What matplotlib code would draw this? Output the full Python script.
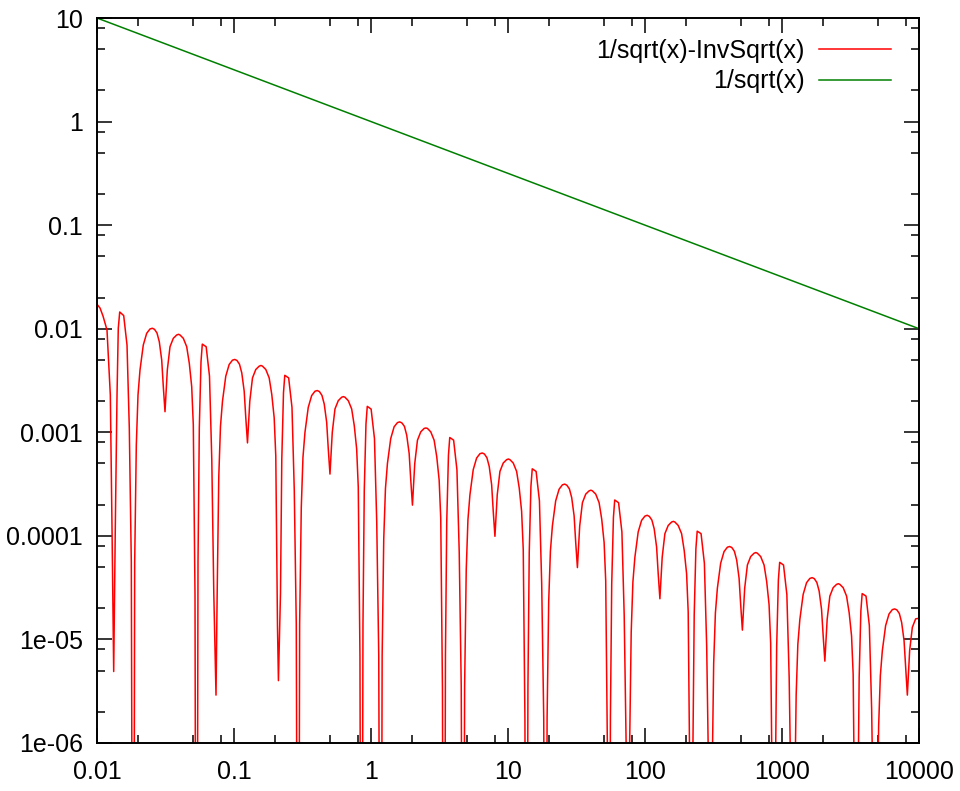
import matplotlib
matplotlib.use("Agg")
import matplotlib.pyplot as plt
from matplotlib.ticker import LogLocator, NullFormatter, FixedLocator, FixedFormatter

plt.rcParams['font.family'] = ['Liberation Sans', 'DejaVu Sans']

DEEP = 1e-9   # curve touches zero there and runs off the bottom

# |1/sqrt(x) - InvSqrt(x)|, one list per factor-4 step
start_x = [0.01, 0.01052, 0.01106, 0.01183, 0.01251, 0.01287, 0.01324, 0.01360, 0.01400, 0.01430, 0.01465]
start_y = [0.0172, 0.01585, 0.01327, 0.00972, 0.00229, 1.19e-4, 4.9e-6, 1.19e-4, 0.00229, 0.0101, 0.0145]

p0_x = [0.01566, 0.01656, 0.01721, 0.01780, 0.01822, 0.01853, 0.01884, 0.01936, 0.01992, 0.02060,
        0.02177, 0.02305, 0.02437, 0.02533, 0.02628, 0.02741, 0.02849, 0.02967, 0.03048, 0.03136,
        0.03260, 0.03411, 0.03606, 0.03818, 0.03935, 0.04035, 0.04266, 0.04516, 0.04718, 0.04912,
        0.05046, 0.05192, 0.05280, 0.05370, 0.05461, 0.05582, 0.05743, 0.05870]
p0_y = [0.0134, 0.00696, 0.0011, 5.6e-5, DEEP, DEEP, 5.6e-5, 7.5e-4, 0.00229, 0.00399,
        0.00696, 0.00903, 0.00994, 0.0101, 0.00987, 0.00909, 0.00749, 0.00499, 0.00276, 0.00158,
        0.00399, 0.0067, 0.00808, 0.0087, 0.00883, 0.0087, 0.00808, 0.0067, 0.00463, 0.00276,
        0.00118, 2.7e-5, DEEP, DEEP, 5.6e-5, 0.0011, 0.0048, 0.0071]

p1_x = [0.06264, 0.06624, 0.06884, 0.0712, 0.0739, 0.07536, 0.07744, 0.07968, 0.0824,
        0.08708, 0.0922, 0.09748, 0.10132, 0.10512, 0.10964, 0.11396, 0.11868, 0.12192, 0.12544,
        0.1304, 0.13644, 0.14424, 0.15272, 0.1574, 0.1614, 0.17064, 0.18064, 0.18872, 0.19648,
        0.20184, 0.20768, 0.2110, 0.21844, 0.22328, 0.22972, 0.2348]
p1_y = [0.0067, 0.00348, 5.5e-4, 2.8e-5, 2.9e-6, 2.8e-5, 3.75e-4, 0.001145, 0.001995,
        0.00348, 0.004515, 0.00497, 0.00505, 0.004935, 0.004545, 0.003745, 0.002495, 0.00138, 7.9e-4,
        0.001995, 0.00335, 0.00404, 0.00435, 0.004415, 0.00435, 0.00404, 0.00335, 0.002315, 0.00138,
        5.9e-4, 1.35e-5, 4e-6, 2.8e-5, 5.5e-4, 0.0024, 0.00355]

p2_x = [0.2506, 0.2650, 0.2754, 0.2848, 0.2915, 0.2965, 0.3014, 0.3098, 0.3187, 0.3296,
        0.3483, 0.3688, 0.3899, 0.4053, 0.4205, 0.4386, 0.4558, 0.4747, 0.4877, 0.5018,
        0.5216, 0.5458, 0.5770, 0.6109, 0.6296, 0.6456, 0.6826, 0.7226, 0.7549, 0.7859,
        0.8074, 0.8307, 0.8448, 0.8592, 0.8738, 0.8931, 0.9189, 0.9392]
p2_y = [0.00335, 0.00174, 2.75e-4, 1.4e-5, DEEP, DEEP, 1.4e-5, 1.875e-4, 5.73e-4, 9.98e-4,
        0.00174, 0.00226, 0.00249, 0.00253, 0.00247, 0.00227, 0.00187, 0.00125, 6.9e-4, 3.95e-4,
        9.98e-4, 0.00168, 0.00202, 0.00218, 0.00221, 0.00218, 0.00202, 0.00168, 0.00116, 6.9e-4,
        2.95e-4, 6.8e-6, DEEP, DEEP, 1.4e-5, 2.75e-4, 0.0012, 0.00178]

p3_x = [1.002, 1.060, 1.101, 1.139, 1.166, 1.186, 1.206, 1.239, 1.275, 1.318,
        1.393, 1.475, 1.560, 1.621, 1.682, 1.754, 1.823, 1.899, 1.951, 2.007,
        2.086, 2.183, 2.308, 2.444, 2.518, 2.582, 2.730, 2.890, 3.020, 3.144,
        3.229, 3.323, 3.379, 3.437, 3.495, 3.572, 3.676, 3.757]
p3_y = [0.001675, 8.7e-4, 1.375e-4, 7e-6, DEEP, DEEP, 7e-6, 9.4e-5, 2.86e-4, 4.99e-4,
        8.7e-4, 0.00113, 0.00124, 0.00126, 0.00123, 0.00114, 9.36e-4, 6.24e-4, 3.45e-4, 1.98e-4,
        4.99e-4, 8.38e-4, 0.00101, 0.00109, 0.0011, 0.00109, 0.00101, 8.38e-4, 5.79e-4, 3.45e-4,
        1.48e-4, 3.4e-6, DEEP, DEEP, 7e-6, 1.375e-4, 6e-4, 8.9e-4]

p4_x = [4.009, 4.239, 4.406, 4.557, 4.664, 4.744, 4.823, 4.956, 5.100, 5.274,
        5.573, 5.901, 6.239, 6.484, 6.728, 7.017, 7.293, 7.596, 7.803, 8.028,
        8.346, 8.732, 9.231, 9.774, 10.07, 10.33, 10.92, 11.56, 12.08, 12.57,
        12.92, 13.29, 13.52, 13.75, 13.98, 14.29, 14.70, 15.03]
p4_y = [8.4e-4, 4.35e-4, 6.9e-5, 3.5e-6, DEEP, DEEP, 3.5e-6, 4.7e-5, 1.43e-4, 2.49e-4,
        4.35e-4, 5.64e-4, 6.21e-4, 6.31e-4, 6.17e-4, 5.68e-4, 4.68e-4, 3.12e-4, 1.73e-4, 9.9e-5,
        2.49e-4, 4.19e-4, 5.05e-4, 5.44e-4, 5.52e-4, 5.44e-4, 5.05e-4, 4.19e-4, 2.89e-4, 1.73e-4,
        7.4e-5, 1.7e-6, DEEP, DEEP, 3.5e-6, 6.9e-5, 3e-4, 4.44e-4]

p5_x = [16.04, 16.96, 17.62, 18.23, 18.66, 18.97, 19.29, 19.82, 20.40, 21.09,
        22.29, 23.60, 24.95, 25.94, 26.91, 28.07, 29.17, 30.38, 31.21, 32.11,
        33.38, 34.93, 36.93, 39.10, 40.29, 41.32, 43.68, 46.24, 48.31, 50.30,
        51.67, 53.17, 54.07, 54.99, 55.92, 57.16, 58.81, 60.11]
p5_y = [4.19e-4, 2.18e-4, 3.44e-5, 1.75e-6, DEEP, DEEP, 1.75e-6, 2.34e-5, 7.16e-5, 1.25e-4,
        2.18e-4, 2.82e-4, 3.11e-4, 3.16e-4, 3.08e-4, 2.84e-4, 2.34e-4, 1.56e-4, 8.63e-5, 4.94e-5,
        1.25e-4, 2.09e-4, 2.53e-4, 2.72e-4, 2.76e-4, 2.72e-4, 2.53e-4, 2.09e-4, 1.45e-4, 8.63e-5,
        3.69e-5, 8.4e-7, DEEP, DEEP, 1.75e-6, 3.44e-5, 1.5e-4, 2.22e-4]

p6_x = [64.14, 67.83, 70.49, 72.91, 74.63, 75.90, 77.17, 79.30, 81.59, 84.38,
        89.17, 94.41, 99.82, 103.75, 107.64, 112.27, 116.70, 121.53, 124.85, 128.45,
        133.53, 139.71, 147.70, 156.39, 161.18, 165.27, 174.74, 184.97, 193.25, 201.20,
        206.68, 212.66, 216.27, 219.96, 223.68, 228.64, 235.23, 240.43]
p6_y = [2.09e-4, 1.09e-4, 1.72e-5, 8.8e-7, DEEP, DEEP, 8.8e-7, 1.17e-5, 3.58e-5, 6.23e-5,
        1.09e-4, 1.41e-4, 1.55e-4, 1.58e-4, 1.54e-4, 1.42e-4, 1.17e-4, 7.8e-5, 4.31e-5, 2.47e-5,
        6.23e-5, 1.05e-4, 1.26e-4, 1.36e-4, 1.38e-4, 1.36e-4, 1.26e-4, 1.05e-4, 7.23e-5, 4.31e-5,
        1.84e-5, 4.2e-7, DEEP, DEEP, 8.8e-7, 1.72e-5, 7.5e-5, 1.11e-4]

p7_x = [256.6, 271.3, 282.0, 291.6, 298.5, 303.6, 308.7, 317.2, 326.4, 337.5,
        356.7, 377.6, 399.3, 415.0, 430.6, 449.1, 466.8, 486.1, 499.4, 513.8,
        534.1, 558.9, 590.8, 625.5, 644.7, 661.1, 698.9, 739.9, 773.0, 804.8,
        826.7, 850.7, 865.1, 879.8, 894.7, 914.5, 940.9, 961.7]
p7_y = [1.05e-4, 5.44e-5, 8.6e-6, 4.4e-7, DEEP, DEEP, 4.4e-7, 5.86e-6, 1.79e-5, 3.12e-5,
        5.44e-5, 7.05e-5, 7.77e-5, 7.89e-5, 7.71e-5, 7.1e-5, 5.85e-5, 3.9e-5, 2.16e-5, 1.23e-5,
        3.12e-5, 5.23e-5, 6.31e-5, 6.8e-5, 6.9e-5, 6.8e-5, 6.31e-5, 5.23e-5, 3.62e-5, 2.16e-5,
        9.2e-6, 2.1e-7, DEEP, DEEP, 4.4e-7, 8.6e-6, 3.75e-5, 5.55e-5]

p8_x = [1026, 1085, 1128, 1167, 1194, 1214, 1235, 1269, 1305, 1350,
        1427, 1511, 1597, 1660, 1722, 1796, 1867, 1944, 1998, 2055,
        2136, 2235, 2363, 2502, 2579, 2644, 2796, 2960, 3092, 3219,
        3307, 3403, 3460, 3519, 3579, 3658, 3764, 3847]
p8_y = [5.23e-5, 2.72e-5, 4.3e-6, 2.2e-7, DEEP, DEEP, 2.2e-7, 2.93e-6, 8.95e-6, 1.56e-5,
        2.72e-5, 3.53e-5, 3.88e-5, 3.95e-5, 3.86e-5, 3.55e-5, 2.93e-5, 1.95e-5, 1.08e-5, 6.17e-6,
        1.56e-5, 2.62e-5, 3.16e-5, 3.4e-5, 3.45e-5, 3.4e-5, 3.16e-5, 2.62e-5, 1.81e-5, 1.08e-5,
        4.6e-6, 1.05e-7, DEEP, DEEP, 2.2e-7, 4.3e-6, 1.88e-5, 2.77e-5]

p9_x = [4105, 4341, 4511, 4666, 4776, 4858, 4939, 5075, 5222, 5400,
        5707, 6042, 6388, 6640, 6889, 7185, 7469, 7778, 7990, 8221,
        8546, 8942, 9453, 10000]
p9_y = [2.62e-5, 1.36e-5, 2.15e-6, 1.1e-7, DEEP, DEEP, 1.1e-7, 1.46e-6, 4.47e-6, 7.8e-6,
        1.36e-5, 1.76e-5, 1.94e-5, 1.97e-5, 1.93e-5, 1.78e-5, 1.46e-5, 9.75e-6, 5.4e-6, 2.9e-6,
        7.8e-6, 1.31e-5, 1.58e-5, 1.6e-5]

err_x = start_x + p0_x + p1_x + p2_x + p3_x + p4_x + p5_x + p6_x + p7_x + p8_x + p9_x
err_y = start_y + p0_y + p1_y + p2_y + p3_y + p4_y + p5_y + p6_y + p7_y + p8_y + p9_y

# 1/sqrt(x) is a straight line on log-log
inv_x = [0.01, 10000]
inv_y = [10, 0.01]

x_ticks = [0.01, 0.1, 1, 10, 100, 1000, 10000]
x_labels = ['0.01', '0.1', '1', '10', '100', '1000', '10000']
y_ticks = [1e-6, 1e-5, 1e-4, 1e-3, 1e-2, 1e-1, 1, 10]
y_labels = ['1e-06', '1e-05', '0.0001', '0.001', '0.01', '0.1', '1', '10']

fig = plt.figure(figsize=(9.6, 7.91), dpi=100)
ax = fig.add_axes([97/960, 1-743/791, 822/960, 725/791])

ax.plot(err_x, err_y, color='#ff0000', lw=1.1, label='1/sqrt(x)-InvSqrt(x)')
ax.plot(inv_x, inv_y, color='#008000', lw=1.1, label='1/sqrt(x)')

ax.set_xscale('log')
ax.set_yscale('log')
ax.set_xlim(0.01, 10000)
ax.set_ylim(1e-6, 10)

for axis, ticks, labels in ((ax.xaxis, x_ticks, x_labels), (ax.yaxis, y_ticks, y_labels)):
    axis.set_major_locator(FixedLocator(ticks))
    axis.set_major_formatter(FixedFormatter(labels))
    axis.set_minor_locator(LogLocator(base=10, subs=[2, 5, 8]))
    axis.set_minor_formatter(NullFormatter())

ax.tick_params(which='both', direction='in', top=True, right=True, width=1.1, colors='black')
ax.tick_params(which='major', length=11, labelsize=18)
ax.tick_params(axis='x', which='major', pad=12)
ax.tick_params(axis='y', which='major', pad=10)
ax.tick_params(which='minor', length=5.5)
for s in ax.spines.values():
    s.set_linewidth(1.4)

ax.legend(loc='upper right', bbox_to_anchor=(0.966, 0.971), frameon=False, markerfirst=False,
          fontsize=18, handlelength=2.9, handletextpad=0.56, labelspacing=0.25,
          borderpad=0, borderaxespad=0)

fig.savefig('out.png', dpi=100)
